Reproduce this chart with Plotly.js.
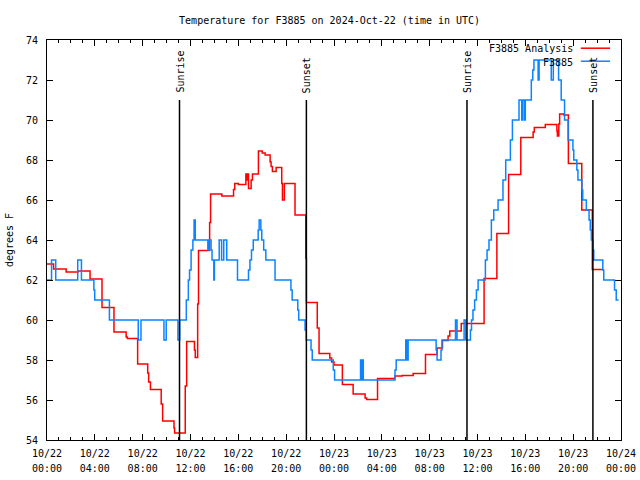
<!DOCTYPE html>
<html><head><meta charset="utf-8">
<script src="https://cdn.plot.ly/plotly-3.0.1.min.js"></script>
<style>html,body{margin:0;padding:0;background:#fff}</style>
</head><body><div id="chart" style="width:640px;height:480px"></div>
<script>
// Hours since 2024-10-22 00:00 UTC, and temperatures (deg F)
const analysisHours = [0,0.55,1.6,2.6,3.6,4.6,5.6,6.62,6.72,7.58,8.42,8.5,8.65,9.55,9.67,10.62,10.67,11.56,11.68,12.33,12.4,12.6,12.67,13.6,13.68,14.62,15.6,15.7,16.0,16.63,16.72,16.78,16.85,17.07,17.18,17.68,18.0,18.24,18.66,18.74,18.85,19.16,19.63,19.69,19.85,20.74,21.64,21.69,22.6,22.75,23.65,23.8,24.0,24.7,25.6,26.6,26.73,27.64,29.09,29.7,30.62,31.65,32.62,33.07,33.54,33.68,34.64,36.55,37.62,38.6,39.62,40.65,40.75,41.67,42.64,42.68,42.8,42.87,43.22,43.6,44.72,45.6,46.48];
const analysisTemps = [62.8,62.55,62.4,62.45,62.05,60.63,59.4,59.15,59.08,57.8,57.35,56.9,56.53,55.8,54.95,54.6,54.35,56.7,58.93,58.5,58.13,60.8,63.47,64.88,66.3,66.2,66.53,66.83,66.78,67.3,67.0,67.3,66.58,67.0,67.3,68.45,68.35,68.25,67.9,67.67,67.42,67.62,66.83,66.0,66.83,65.25,63.08,60.88,59.6,58.33,58.1,57.9,57.75,56.78,56.3,56.1,56.03,57.07,57.2,57.23,57.33,58.28,58.6,58.97,59.2,59.45,59.83,62.07,64.33,67.28,69.13,69.4,69.63,69.77,69.45,69.2,69.8,70.3,70.25,67.83,65.5,62.53,62.53];
const stationHours = [0,0.38,0.73,2.57,2.88,3.92,3.99,5.22,7.63,7.86,9.78,9.97,10.95,11.1,11.65,11.82,11.92,12.05,12.2,12.3,12.4,13.45,13.55,13.72,13.8,13.95,14.0,14.4,14.6,14.78,15.03,15.93,16.85,16.97,17.1,17.25,17.66,17.74,17.88,17.96,18.12,18.3,19.07,20.4,20.5,20.97,21.05,21.58,21.68,22.08,22.18,23.94,24.05,26.22,26.3,26.38,26.45,29.1,29.2,30.0,30.08,30.2,32.54,32.62,32.95,33.03,34.16,34.29,34.88,35.02,35.41,35.5,35.62,35.76,35.91,36.05,36.66,36.8,36.96,37.16,37.36,37.72,38.13,38.36,38.75,38.92,39.47,39.7,39.75,39.9,40.0,40.5,40.62,40.72,41.07,41.15,42.17,42.34,42.78,43.0,43.28,43.58,43.98,44.05,44.31,44.4,44.73,44.8,45.1,45.33,45.43,45.52,45.65,45.72,46.48,46.56,47.46,47.6,47.8];
const stationTemps = [62,63,62,63,62,61.5,61,60,59,60,59,60,59,60,61,62,62.5,63.5,64,65,64,63.5,64,63.5,63,62,63,64,63,64,63,62,62.5,63,63.5,64,64.5,65,64.5,64,63.5,63,62,61.5,61,60.5,60,59.5,59,58.5,58,57.5,57,58,57,58,57,57.5,58,59,58,59,58.5,58,58.5,59,60,59,60,59,59.5,60,60.5,61,61.5,62,63,63.5,64,65,65.5,66,67,68,69,70,71,70,71,70,71,72,72.5,73,72,73,72,73,72,71,70,69,68.5,68,67.5,67,66.5,66,65.5,65,64.5,64,63.5,63,62.5,62,61.5,61,61];
const eventHours = [11.08, 21.69, 35.12, 45.65];
const eventLabels = ['Sunrise','Sunset','Sunrise','Sunset'];
const seriesNames = ['F3885 Analysis','F3885'];
const seriesColors = ['#ff0000','#0a84ff'];
const tickHours = [0,4,8,12,16,20,24,28,32,36,40,44,48];
const tickDates = ['10/22','10/22','10/22','10/22','10/22','10/22','10/23','10/23','10/23','10/23','10/23','10/23','10/24'];
const tickClock = ['00:00','04:00','08:00','12:00','16:00','20:00','00:00','04:00','08:00','12:00','16:00','20:00','00:00'];

function toTime(h){
  const ms = Date.UTC(2024,9,22) + Math.round(h*3600000);
  return new Date(ms).toISOString().replace('T',' ').slice(0,19);
}
const FONT = 'DejaVu Sans Mono';
const tickText = tickDates.map((d,i)=>'<span style="font-size:10px">'+d+'</span><br><span style="font-size:10px">'+tickClock[i]+'</span>');

const traces = [
  {x: analysisHours.map(toTime), y: analysisTemps, name: seriesNames[0], type:'scatter', mode:'lines',
   line:{color:seriesColors[0], width:1.5, shape:'hv'}, showlegend:false},
  {x: stationHours.map(toTime), y: stationTemps, name: seriesNames[1], type:'scatter', mode:'lines',
   line:{color:seriesColors[1], width:1.5, shape:'hv'}, showlegend:false}
];

const shapes = [];
const annotations = [];
eventHours.forEach((h,i)=>{
  shapes.push({type:'line', xref:'x', yref:'paper', x0:toTime(h), x1:toTime(h), y0:0, y1:0.85,
    line:{color:'#000', width:1.5}});
  annotations.push({xref:'x', yref:'paper', x:toTime(h), y:0.85, text:eventLabels[i], textangle:-90,
    showarrow:false, xanchor:'center', yanchor:'bottom', yshift:5,
    font:{family:FONT, size:10, color:'#000'}});
});
// legend (gnuplot style: text then line sample)
const legRows = [0.9775, 0.945];
seriesNames.forEach((n,i)=>{
  annotations.push({xref:'paper', yref:'paper', x:0.92, y:legRows[i], text:n, showarrow:false,
    xanchor:'right', yanchor:'middle', font:{family:FONT, size:10, color:'#000'}});
  shapes.push({type:'line', xref:'paper', yref:'paper', x0:0.930, x1:0.981, y0:legRows[i]+0.002, y1:legRows[i]+0.002,
    line:{color:seriesColors[i], width:1.5}});
});

const layout = {
  width:640, height:480,
  margin:{l:47, r:19, t:40, b:40},
  paper_bgcolor:'#fff', plot_bgcolor:'#fff',
  font:{family:FONT, size:10, color:'#000'},
  title:{text:'Temperature for F3885 on 2024-Oct-22 (time in UTC)', font:{family:FONT, size:10, color:'#000'},
    x:0.515, xanchor:'center', xref:'container', y:0.958, yanchor:'middle', yref:'container'},
  xaxis:{type:'date', range:[toTime(0), toTime(48)], tickmode:'array',
    tickvals: tickHours.map(toTime), ticktext: tickText,
    ticks:'inside', ticklen:6, tickcolor:'#000', showline:true, linecolor:'#000', linewidth:1, mirror:'ticks',
    showgrid:false, zeroline:false, tickfont:{family:FONT, size:11.5, color:'#000'}, ticklabelstandoff:2,
    minor:{dtick:3600000, tick0:toTime(0), ticks:'inside', ticklen:3, tickcolor:'#000', showgrid:false}},
  yaxis:{range:[54,74], dtick:2, tick0:54, ticks:'inside', ticklen:6, tickcolor:'#000', showline:true,
    linecolor:'#000', linewidth:1, mirror:'ticks', showgrid:false, zeroline:false,
    tickfont:{family:FONT, size:10, color:'#000'}, ticklabelstandoff:6,
    title:{text:'degrees F', font:{family:FONT, size:10, color:'#000'}, standoff:10}},
  shapes: shapes,
  annotations: annotations,
  showlegend:false
};
Plotly.newPlot('chart', traces, layout, {displayModeBar:false, staticPlot:true});
</script>
</body></html>
